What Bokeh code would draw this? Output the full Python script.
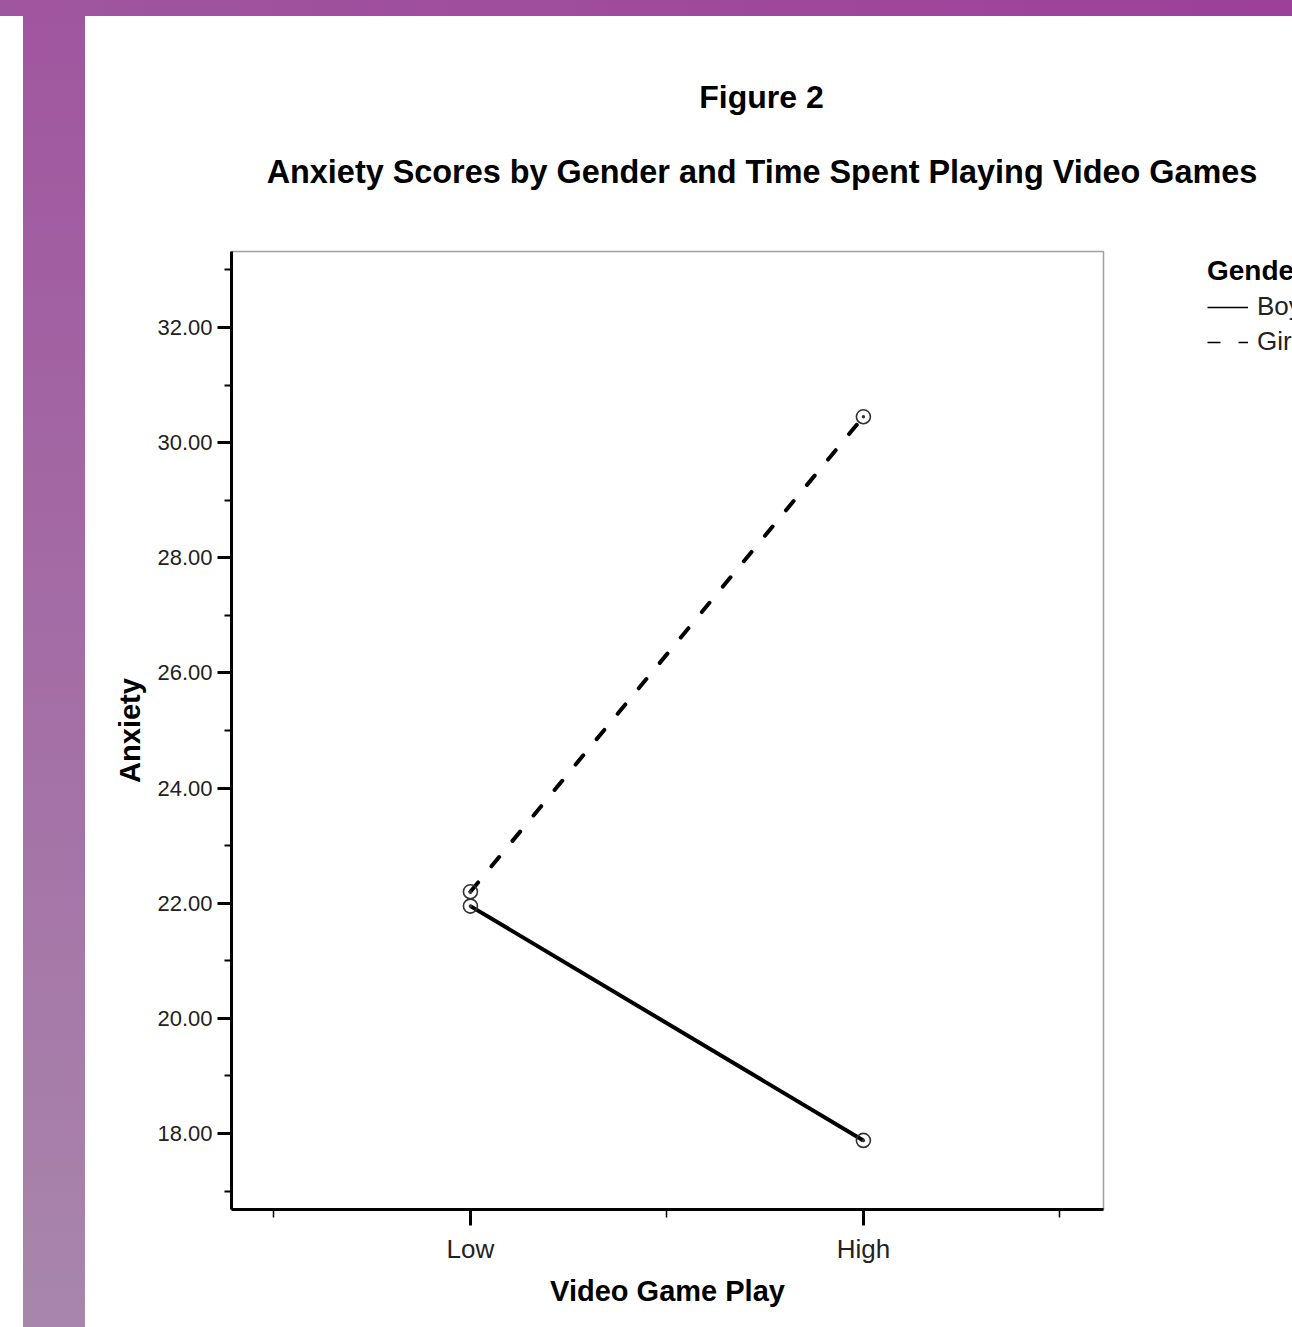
from bokeh.plotting import figure
from bokeh.models import (Div, Range1d, FixedTicker, PrintfTickFormatter, Legend,
                          LegendItem, Label, ColumnDataSource)
from bokeh.layouts import column, row
from bokeh.embed import file_html
from bokeh.resources import INLINE

# ---- data ----
categories = ["Low", "High"]
boys = [21.95, 17.88]
girls = [22.20, 30.45]
y_major_ticks = [18, 20, 22, 24, 26, 28, 30, 32]
y_minor_ticks = [17, 19, 21, 23, 25, 27, 29, 31, 33]
fig_label = "Figure 2"
chart_title = "Anxiety Scores by Gender and Time Spent Playing Video Games"
legend_title = "Gender"
series_names = ["Boys", "Girls"]

FONT = "Liberation Sans"
xpos = [i + 1 for i in range(len(categories))]


def bare(width, height, left=0):
    f = figure(width=width, height=height, output_backend="svg", toolbar_location=None,
               x_range=Range1d(0, 1), y_range=Range1d(0, 1), title=None,
               x_axis_location=None, y_axis_location=None, margin=0,
               min_border=0, min_border_left=left, min_border_right=0,
               min_border_top=0, min_border_bottom=0)
    f.xgrid.visible = False
    f.ygrid.visible = False
    f.outline_line_color = None
    f.background_fill_color = "white"
    f.border_fill_color = "white"
    return f


# ---- title strip ----
tf = bare(1207, 230)
tf.add_layout(Label(x=676, y=150, x_units="screen", y_units="screen", text=fig_label,
                    text_align="center", text_baseline="middle", text_font=FONT,
                    text_font_size="32px", text_font_style="bold", text_color="black"))
tf.add_layout(Label(x=676.5, y=75, x_units="screen", y_units="screen", text=chart_title,
                    text_align="center", text_baseline="middle", text_font=FONT,
                    text_font_size="32.4px", text_font_style="bold", text_color="black"))

# ---- main chart ----
p = figure(width=1115, height=1081, output_backend="svg", toolbar_location=None,
           x_range=Range1d(0.392, 2.611), y_range=Range1d(16.68, 33.32), title=None,
           min_border_left=146, min_border_right=97, min_border_top=5, min_border_bottom=118,
           margin=0)
p.xgrid.visible = False
p.ygrid.visible = False
p.background_fill_color = "white"
p.border_fill_color = "white"
p.outline_line_color = "#a0a0a0"
p.outline_line_width = 1.5

src_b = ColumnDataSource(dict(x=xpos, y=boys))
src_g = ColumnDataSource(dict(x=xpos, y=girls))
p.line("x", "y", source=src_b, line_color="black", line_width=4)
p.line("x", "y", source=src_g, line_color="black", line_width=4,
       line_dash="12 21", line_cap="round")
p.scatter("x", "y", source=src_b, marker="circle_dot", size=14, line_color="#333333",
          fill_color=None, line_width=1.6)
p.scatter("x", "y", source=src_g, marker="circle_dot", size=14, line_color="#333333",
          fill_color=None, line_width=1.6)

ya = p.yaxis[0]
ya.ticker = FixedTicker(ticks=y_major_ticks, minor_ticks=y_minor_ticks)
ya.formatter = PrintfTickFormatter(format="%.2f")
ya.axis_label = "Anxiety"
ya.axis_label_text_font = FONT
ya.axis_label_text_font_size = "29px"
ya.axis_label_text_font_style = "bold"
ya.axis_label_text_color = "black"
ya.axis_label_standoff = 8
ya.major_label_text_font = FONT
ya.major_label_text_font_size = "22px"
ya.major_label_text_color = "#222222"
ya.major_label_standoff = 5
ya.axis_line_width = 3
ya.major_tick_line_width = 3
ya.minor_tick_line_width = 2
ya.major_tick_out = 14
ya.major_tick_in = 0
ya.minor_tick_out = 7
ya.minor_tick_in = 0

xa = p.xaxis[0]
xa.ticker = FixedTicker(ticks=xpos, minor_ticks=[0.5, 1.5, 2.5])
xa.major_label_overrides = {xv: c for xv, c in zip(xpos, categories)}
xa.axis_label = "Video Game Play"
xa.axis_label_text_font = FONT
xa.axis_label_text_font_size = "29px"
xa.axis_label_text_font_style = "bold"
xa.axis_label_text_color = "black"
xa.axis_label_standoff = 8
xa.major_label_text_font = FONT
xa.major_label_text_font_size = "26px"
xa.major_label_text_color = "#222222"
xa.major_label_standoff = 8
xa.axis_line_width = 3
xa.major_tick_line_width = 3
xa.minor_tick_line_width = 1.5
xa.major_tick_out = 16
xa.major_tick_in = 0
xa.minor_tick_out = 8
xa.minor_tick_in = 0

# ---- legend strip (to the right of the chart, cut at the page edge as in the original) ----
# The legend's sample lines use the same series, drawn outside this strip's visible range.
lf = bare(92, 1081, left=3)
lb = lf.line("x", "y", source=src_b, line_color="black", line_width=1.5)
lg = lf.line("x", "y", source=src_g, line_color="black", line_width=1.5, line_dash="13 18")
legend = Legend(items=[LegendItem(label=series_names[0], renderers=[lb]),
                       LegendItem(label=series_names[1], renderers=[lg])],
                location="top_left", title=legend_title,
                title_text_font=FONT, title_text_font_size="28px", title_text_font_style="bold",
                title_text_color="black", title_standoff=4,
                label_text_font=FONT, label_text_font_size="26px", label_text_color="#222222",
                glyph_width=41, glyph_height=30, label_height=30, label_standoff=9,
                spacing=4, padding=0, margin=4, border_line_color=None,
                background_fill_alpha=0)
lf.add_layout(legend, "center")

# ---- purple frame decoration ----
top_band = Div(text="", width=1292, height=16, margin=0,
               styles={"background": "linear-gradient(to right, #a0569f, #9c4099)"})
white_gap = Div(text="", width=23, height=1311, margin=0, styles={"background": "white"})
side_band = Div(text="", width=62, height=1311, margin=0,
                styles={"background": "linear-gradient(to bottom, #a0569f, #a886ac)"})

right_col = column(tf, row(p, lf, spacing=0, margin=0), spacing=0, margin=0)
layout = column(top_band, row(white_gap, side_band, right_col, spacing=0, margin=0),
                spacing=0, margin=0)
open("out.html", "w").write(file_html(layout, INLINE))
